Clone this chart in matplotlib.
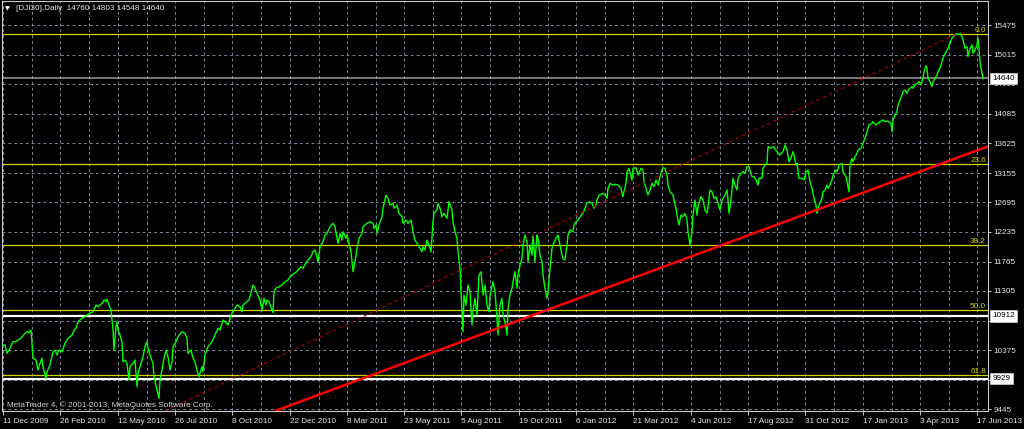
import matplotlib
matplotlib.use("Agg")
import matplotlib.pyplot as plt
from matplotlib.transforms import blended_transform_factory

plt.rcParams['font.family'] = ['Liberation Sans', 'DejaVu Sans']

# ---------------- data ----------------
title = "[DJI30],Daily  14760 14803 14548 14640"
copyright_txt = "MetaTrader 4, \u00a9 2001-2013, MetaQuotes Software Corp."

bars = [0, 2, 4, 7, 10, 13, 15, 18, 22, 24, 26, 28, 29, 30, 33, 35, 37, 39, 40, 43, 44, 47, 50, 52, 54, 56, 59, 62, 65, 69,
        71, 73, 75, 79, 82, 84, 87, 90, 93, 95, 97, 99, 101, 103, 104, 106, 108, 109, 110, 111, 113, 114, 115, 117, 119,
        120, 122, 124, 126, 127, 130, 132, 134, 135, 138, 140, 142, 144, 145, 147, 150, 151, 154, 156, 157, 159, 160, 163,
        165, 167, 169, 170, 173, 175, 179, 182, 184, 185, 188, 190, 192, 194, 196, 199, 200, 202, 205, 209, 212, 215, 217,
        220, 222, 225, 228, 230, 234, 237, 239, 240, 244, 246,
        250, 252, 254, 257, 259, 261, 263, 264, 266, 269, 270, 271, 273, 276, 279, 282, 285, 287, 290, 293, 295, 298, 300,
        302, 305, 308, 310, 312, 314, 315, 317, 320, 322, 324, 327, 330, 332, 334, 335, 337, 339, 340, 343, 344, 346, 348,
        350, 352, 354, 356, 359, 360, 364, 367, 370, 371, 373, 374, 376, 379, 380, 383, 385, 387, 390, 391, 394, 396, 399,
        400, 403, 405, 408, 410, 412, 414, 416, 419, 420, 422, 424, 426, 428, 430, 431, 434, 435, 437, 439, 441, 444, 446,
        449, 450, 452, 454, 455, 457, 458, 460, 461, 463, 465, 467, 469, 470, 472, 474, 476, 478, 480, 482, 484, 486,
        487, 490, 492, 494, 495, 497, 499, 500, 502, 504, 505, 507, 509, 510, 512, 514, 515, 517, 519, 520, 522, 524, 525,
        527, 529, 530, 532, 534, 535, 537, 539, 540, 542, 544, 545, 547, 549, 550, 553, 555, 557, 559, 560, 562, 564, 565,
        567, 570, 571, 573, 575, 577, 580, 582, 584, 586, 589, 591, 593, 594, 596, 600, 602, 604, 605, 607, 610, 612, 615,
        618, 620, 621, 623, 624, 626, 629, 630, 633, 635, 638, 640, 641, 643, 645, 647, 649, 651, 653, 655, 657, 659, 660,
        662, 664, 665, 667, 670, 671, 673, 674, 676, 678, 680, 682, 684, 685, 687, 689, 690, 692, 694, 695, 698, 700, 702,
        704, 705, 707, 709, 711, 713, 715, 717, 719, 720, 722, 724, 725, 726, 728, 730, 732, 734, 735, 738, 740, 742, 744,
        746, 749, 751, 753, 755, 756, 759, 760, 762, 764, 765, 768, 770, 773, 775, 777, 780, 782, 784, 786, 788, 790, 791,
        793, 794, 796, 799, 801, 803, 805, 807, 809, 811, 813, 814, 816, 819, 820, 822, 824, 825, 827, 829, 830, 833, 834,
        836, 839, 840, 843, 844, 846, 847, 849, 850, 852, 854, 855, 858, 860, 862, 864, 866, 869, 870, 873, 875, 877, 880,
        882, 884, 886, 888, 889, 890, 892, 894, 895, 897, 899, 900, 902, 904, 905, 907, 909, 910, 912, 914, 916, 918, 920,
        921, 923, 924, 925, 927, 929, 930, 932, 934, 935, 937, 939, 940, 943, 945, 947, 949, 950, 952, 954, 955, 957, 959,
        960, 962, 964, 965, 967, 969, 970, 972, 974, 975, 976, 977, 978, 979, 980]

close = [10455, 10455, 10325, 10404, 10507, 10507, 10534, 10561, 10639, 10664, 10649, 10691, 10482, 10247, 10220, 10063,
         10168, 10247, 10115, 9933, 10036, 10142, 10350, 10377, 10299, 10377, 10350, 10482, 10561, 10612,
         10691, 10718, 10821, 10875, 10900, 10926, 10953, 10978, 11083, 11057, 11083, 11110, 11162, 11136, 11173, 11083,
         11005, 10848, 10718, 10377, 10743, 10821, 10691, 10612, 10507,
         10193, 10220, 10168, 9906, 10115, 10168, 10220, 9801, 10011, 10168, 10272, 10429, 10507, 10404, 10299, 10168, 9958,
         9749, 9619, 9906, 10063, 10168, 10377,
         10272, 10063, 10193, 10429, 10507, 10586, 10664, 10639, 10561, 10325, 10377, 10247, 10193, 10063, 9958, 10115, 10036,
         10299, 10429, 10507, 10612, 10718, 10691,
         10848, 10821, 10769, 10926, 10978, 11083, 11057, 10978, 11083, 11136, 11162,
         11397, 11346, 11267, 11162, 11005, 11189, 11083, 11162, 11136, 11005, 10969, 11292, 11346, 11371, 11397, 11449,
         11476, 11528, 11565, 11597, 11633, 11685, 11659,
         11722, 11790, 11842, 11920, 11947, 11842, 11754, 11999, 12077, 12182, 12209, 12313, 12366, 12313, 12131, 12052,
         12209, 12104, 12234, 12131, 12182, 12052, 11920,
         11606, 11763, 11974, 12131, 12209, 12313, 12366, 12391, 12366, 12288, 12339, 12209, 12339, 12470, 12602, 12810,
         12759, 12653, 12680, 12602, 12653, 12523, 12470,
         12366, 12418, 12366, 12418, 12234, 12104, 12052, 11999, 11920, 11999, 11947, 12104, 12025, 11920, 12391, 12523,
         12575, 12680, 12602, 12470, 12523, 12445, 12705,
         12575, 12391, 12234, 12131, 11920, 11660, 11292, 10664, 11240, 11083, 11397, 11292, 10769, 10978, 11189, 10926,
         11554, 11606, 11240, 11397, 11083, 10978,
         11240, 11449, 11292, 10875, 10612, 11083, 11189, 10926, 10821, 10612, 11032, 11240, 11346, 11449, 11606, 11346,
         11554, 11711, 11817, 12025, 12182, 12077, 11763,
         12025, 11868, 12182, 11763, 12182, 12131, 11868, 11763, 11554, 11346, 11189, 11292, 11660, 11974, 12025, 12131,
         12182, 12025, 11868, 11817, 11790, 12025, 12182,
         12261, 12234, 12339, 12391, 12418, 12470, 12523, 12602, 12680, 12705, 12680, 12602, 12653, 12732, 12810, 12837,
         12810, 12759, 12916, 12994, 12967, 12978, 12967,
         12916, 12784, 12862, 12994, 13176, 13230, 13046, 13230, 13239, 13124, 13230, 13203, 13020, 12916, 12810, 12889,
         12994, 12941, 13046, 12967, 13098, 13203, 13239,
         13230, 13124, 12967, 12862, 12810, 12732, 12602, 12496, 12339, 12496, 12470, 12523, 12418, 12234, 12025, 12234,
         12496, 12732, 12496, 12627, 12784, 12732, 12575,
         12523, 12627, 12889, 12862, 12759, 12784, 12680, 12575, 12732, 12759, 12810, 12889, 12732, 12523, 12732, 13073,
         12967, 12889, 13073, 13151, 13176, 13151, 13255,
         13255, 13098, 13098, 13046, 12967, 13073, 13073, 13230, 13281, 13308, 13569, 13544, 13569, 13517, 13465, 13438,
         13491, 13595, 13517, 13333, 13387, 13491, 13438,
         13281, 13308, 13073, 13073, 13046, 13176, 13203, 13020, 12916, 12759, 12653, 12523, 12653, 12759, 12862, 12889,
         12967, 12916, 12967, 13046, 13124, 13203, 13176,
         13281, 13308, 13176, 13098, 13020, 12862, 13281, 13387, 13333, 13412, 13465, 13517, 13544, 13622, 13701, 13804,
         13909, 13936, 13961, 13909, 13936, 13961, 13988,
         13961, 13972, 13961, 13936, 13804, 13988, 14066, 14118, 14223, 14302, 14380, 14432, 14459, 14407, 14459, 14486,
         14511, 14486, 14537, 14564, 14589, 14537, 14643,
         14746, 14841, 14800, 14643, 14589, 14511, 14589, 14643, 14694, 14746, 14800, 14903, 14957, 15060, 15114, 15192,
         15271, 15296, 15322, 15340, 15333, 15345, 15296,
         15244, 15114, 15139, 14982, 15114, 15165, 15035, 15087, 15165, 15280, 15114, 14903, 14800, 14721, 14640]

x_labels = ["11 Dec 2009", "26 Feb 2010", "12 May 2010", "26 Jul 2010", "8 Oct 2010", "22 Dec 2010", "8 Mar 2011",
            "23 May 2011", "5 Aug 2011", "19 Oct 2011", "6 Jan 2012", "21 Mar 2012", "4 Jun 2012", "17 Aug 2012",
            "31 Oct 2012", "17 Jan 2013", "3 Apr 2013", "17 Jun 2013"]
x_label_bars = [0, 57, 115, 172, 229, 287, 344, 401, 458, 516, 573, 630, 688, 745, 802, 860, 917, 974]

y_ticks = [15475, 15015, 14555, 14085, 13625, 13155, 12695, 12235, 11765, 11305, 10835, 10375, 9905, 9445]
# the 9905 label is hidden behind the 9929 price box in the reference
y_labels = ["15475", "15015", "14555", "14085", "13625", "13155", "12695", "12235", "11765", "11305", "10835",
            "10375", "", "9445"]

fib_high = 15345
fib_low = 6663
fib_ratios = [0.0, 0.236, 0.382, 0.5, 0.618]
fib_names = ["0.0", "23.6", "38.2", "50.0", "61.8"]

price_lines = [14640, 10912, 9929]
price_line_names = ["14640", "10912", "9929"]

trend_bars = [272, 985]
trend_vals = [9420, 13575]
dot_bars = [162, 953]
dot_vals = [9420, 15335]

# ---------------- figure ----------------
W, H = 1024, 429
fig = plt.figure(figsize=(W / 100, H / 100), dpi=100, facecolor='black')
ax = fig.add_axes([2 / W, 1 - 411 / H, 986 / W, 410 / H])
ax.set_facecolor('black')
ax.set_xlim(-1, 985)
ax.set_ylim(9420, 15856)

txt_col = '#e6e6e6'
fs = 5.9

# grid / ticks
mids = [(a + b) / 2 for a, b in zip(x_label_bars[:-1], x_label_bars[1:])]
ax.set_xticks(x_label_bars)
ax.set_xticklabels(x_labels, ha='left')
ax.set_xticks(mids, minor=True)
ax.set_yticks(y_ticks)
ax.set_yticklabels(y_labels)
ax.yaxis.tick_right()
ax.tick_params(axis='both', which='major', colors='#c8c8c8', labelcolor=txt_col, labelsize=fs, width=0.7)
ax.tick_params(axis='x', which='major', length=3, pad=2)
ax.tick_params(axis='y', which='major', length=2.2, pad=1.6)
ax.tick_params(axis='x', which='minor', length=0)
ax.grid(True, which='both', axis='x', color='#778899', linestyle=(0, (3, 3)), linewidth=0.7)
ax.grid(True, which='major', axis='y', color='#778899', linestyle=(0, (3, 3)), linewidth=0.7)
ax.set_axisbelow(True)
for s in ax.spines.values():
    s.set_color('#c8c8c8')
    s.set_linewidth(0.8)

# fibonacci levels
bt = blended_transform_factory(ax.transAxes, ax.transData)
for r, name in zip(fib_ratios, fib_names):
    lvl = fib_high - r * (fib_high - fib_low)
    ax.axhline(lvl, color='#d2d200', lw=0.9, zorder=2)
    ax.text(0.998, lvl, name, transform=bt, ha='right', va='bottom', color='#d0d000', fontsize=fs, zorder=6)

# price lines
ax.axhline(price_lines[0], color='#9a9a9a', lw=1.1, zorder=2)
ax.axhline(price_lines[1], color='white', lw=1.6, zorder=2)
ax.axhline(price_lines[2], color='white', lw=1.6, zorder=2)

# price series
ax.plot(bars, close, color='#00ff00', lw=1.0, zorder=3)

# trend lines
ax.plot(dot_bars, dot_vals, color='#b40000', lw=0.9, linestyle=(0, (2.5, 3)), zorder=4)
ax.plot(trend_bars, trend_vals, color='#ff0000', lw=1.8, zorder=5, solid_capstyle='butt')

# price labels on axis
for v, name in zip(price_lines, price_line_names):
    ax.annotate(name, xy=(1, v), xycoords=('axes fraction', 'data'), xytext=(4.5, 0), textcoords='offset pixels',
                ha='left', va='center', fontsize=fs, color='black', annotation_clip=False, zorder=10,
                bbox=dict(boxstyle='square,pad=0.28', fc='white', ec='#d0d0d0', lw=0.5))

# header and copyright
fig.text(5 / W, 1 - 8.5 / H, "\u25bc", color='white', fontsize=4.5, va='center', ha='left',
         family=['DejaVu Sans'])
fig.text(16 / W, 1 - 8.5 / H, title, color=txt_col, fontsize=fs, va='center', ha='left')
fig.text(7 / W, 1 - 405 / H, copyright_txt, color='#d0d0d0', fontsize=fs, va='center', ha='left')

fig.savefig('out.png', dpi=100, facecolor='black')
